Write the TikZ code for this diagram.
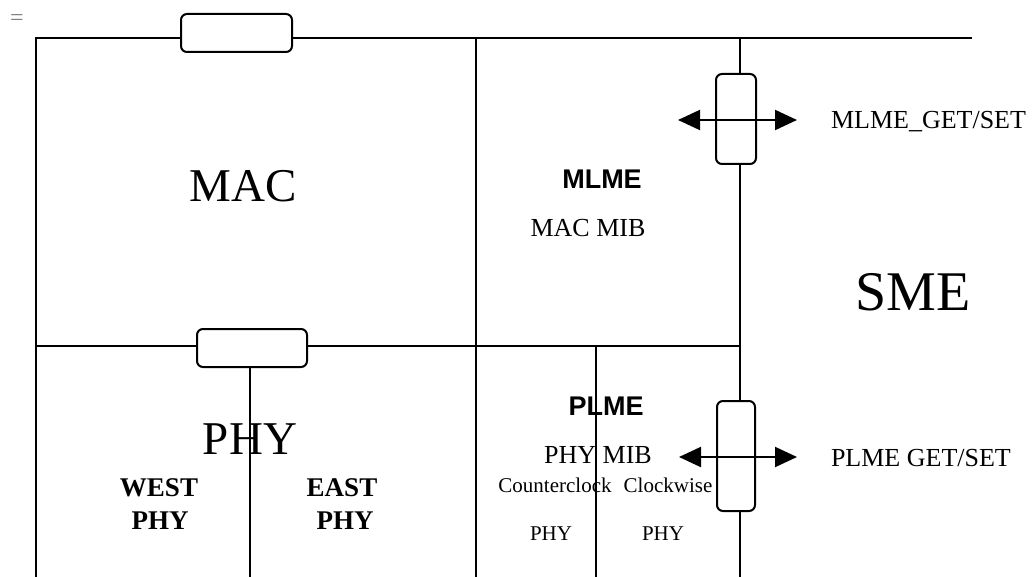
\documentclass[tikz,border=0pt]{standalone}
\usepackage{fontspec}
\setmainfont{Liberation Serif}
\setsansfont{Liberation Sans}
\usetikzlibrary{arrows.meta}

\begin{document}
\begin{tikzpicture}[x=1pt, y=-1pt, line width=2pt,
        >={Triangle[length=22pt,width=20pt]},
        sap/.style={draw, fill=white, rounded corners=6pt, inner sep=0pt},
        lbl/.style={inner sep=0pt, anchor=base},
        big/.style={lbl, font=\fontsize{47}{56}\selectfont},
        ent/.style={lbl, font=\sffamily\bfseries\fontsize{27}{32}\selectfont},
        mib/.style={lbl, font=\fontsize{26}{31}\selectfont},
        sub/.style={lbl, font=\fontsize{21}{25}\selectfont},
        half/.style={lbl, font=\bfseries\fontsize{27}{32}\selectfont}]
        \useasboundingbox (0,0) rectangle (1032,577);

        % layer borders
        \draw (36,577) -- (36,38) -- (972,38);
        \draw (476,38) -- (476,577);
        \draw (740,38) -- (740,577);
        \draw (36,346) -- (740,346);
        \draw (250,368) -- (250,577);
        \draw (596,346) -- (596,577);

        % service access points
        \node (sapmac) [sap, minimum width=111pt, minimum height=38pt] at (236.5,33) {};
        \node (sapphy) [sap, minimum width=110pt, minimum height=38pt] at (252,348) {};
        \node (sapmlme) [sap, minimum width=40pt, minimum height=90pt] at (736,119) {};
        \node (sapplme) [sap, minimum width=38pt, minimum height=110pt] at (736,456) {};

        \node (eq) [lbl, text=gray, font=\fontsize{24}{28}\selectfont] at (17,26) {=};

        \node (mac) [big] at (243,202) {MAC};
        \node (sme) [lbl, font=\fontsize{56}{66}\selectfont] at (913,310) {SME};
        \node (phy) [big] at (250,454) {PHY};

        \node (mlme) [ent] at (602,189) {MLME};
        \node (macmib) [mib] at (588,236.5) {MAC MIB};
        \node (plme) [ent] at (606,415) {PLME};
        \node (phymib) [mib] at (598,463) {PHY MIB};

        \node (ccw) [sub] at (555,492) {Counterclock};
        \node (cw) [sub] at (668,492) {Clockwise};
        \node (ccwphy) [sub] at (551,540) {PHY};
        \node (cwphy) [sub] at (663,540) {PHY};

        \node (west) [half] at (159,496.5) {WEST};
        \node (westphy) [half] at (160,529.5) {PHY};
        \node (east) [half] at (342,496.5) {EAST};
        \node (eastphy) [half] at (345,529.5) {PHY};

        % get/set primitives
        \coordinate (mlmel) at (678,120);
        \coordinate (mlmer) at (797,120);
        \coordinate (plmel) at (679,457);
        \coordinate (plmer) at (797,457);
        \draw[<->] (mlmel) -- (mlmer);
        \draw[<->] (plmel) -- (plmer);

        \node (mlmegs) [mib, anchor=base west] at (830,129) {MLME\_GET/SET};
        \node (plmegs) [mib, anchor=base west] at (830,466) {PLME GET/SET};

    \end{tikzpicture}
\end{document}
